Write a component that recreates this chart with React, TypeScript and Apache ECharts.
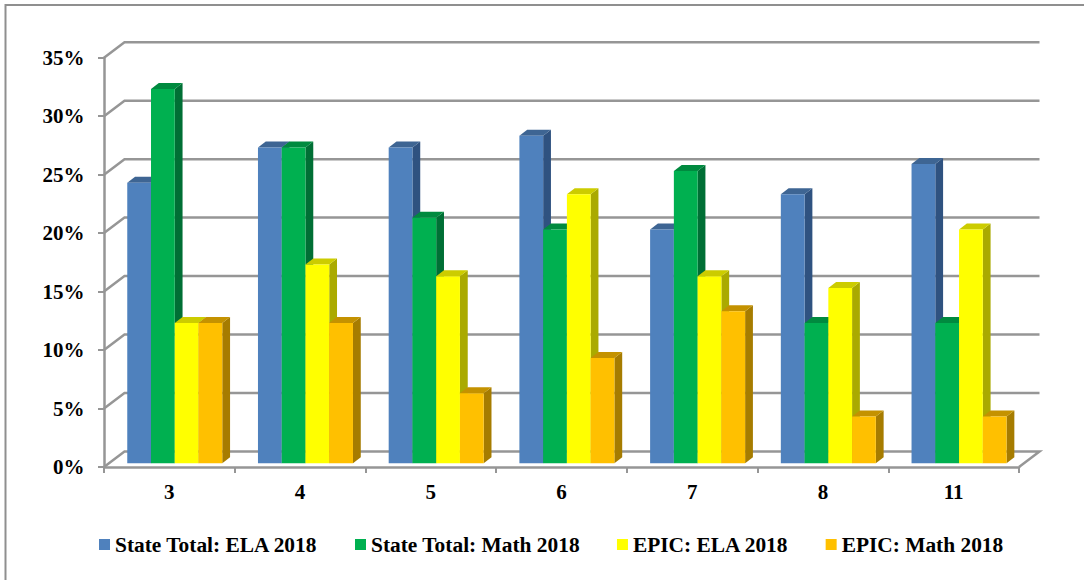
import React, { useEffect, useRef } from "react";
import * as echarts from "echarts";

const categories = ["3", "4", "5", "6", "7", "8", "11"];
const seriesNames = ["State Total: ELA 2018", "State Total: Math 2018", "EPIC: ELA 2018", "EPIC: Math 2018"];
const stateEla = [24, 27, 27, 28, 20, 23, 25.6];
const stateMath = [32, 27, 21, 20, 25, 12, 12];
const epicEla = [12, 17, 16, 23, 16, 15, 20];
const epicMath = [12, 12, 6, 9, 13, 4, 4];
const yTicks = [0, 5, 10, 15, 20, 25, 30, 35];

const front = ["#4F81BD", "#00B050", "#FFFF00", "#FFC000"];
const top = ["#3E6593", "#008A3F", "#CCCC00", "#C49200"];
const side = ["#2F5280", "#006F35", "#AAAA00", "#A67C00"];

const GRID = "#969696";
const WALL_DX = 20.5;
const WALL_DY = -15.5;
const BAR_DX = 5.4;
const BAR_DY = -3.7;
const DEPTH_X = 7.8;
const DEPTH_Y = -6;
const FONT = "'Liberation Serif', 'Times New Roman', serif";

function wallItem(params: any, api: any) {
  const v = api.value(0);
  const a = api.coord([0, v]);
  const band = api.size([1, 0])[0];
  const x0 = a[0] - band / 2;
  const x1 = x0 + band * categories.length;
  const y = a[1];
  const pts = [
    [x0, y],
    [x0 + WALL_DX, y + WALL_DY],
    [x1 + WALL_DX, y + WALL_DY],
  ];
  if (v === 0) pts.push([x1, y]);
  return {
    type: "polyline",
    silent: true,
    shape: { points: pts },
    style: { fill: "none", stroke: GRID, lineWidth: 2.5 },
  };
}

function makeBarItem(idx: number) {
  return (params: any, api: any) => {
    const cat = api.value(0);
    const val = api.value(1);
    const t = api.coord([cat, val]);
    const b = api.coord([cat, 0]);
    const band = api.size([1, 0])[0];
    const w = band * 0.1817;
    const x0 = t[0] - 2 * w + idx * w + BAR_DX;
    const x1 = x0 + w;
    const yT = t[1] + BAR_DY;
    const yB = b[1] + BAR_DY;
    return {
      type: "group",
      children: [
        {
          type: "polygon",
          shape: { points: [[x1, yT], [x1 + DEPTH_X, yT + DEPTH_Y], [x1 + DEPTH_X, yB + DEPTH_Y], [x1, yB]] },
          style: { fill: side[idx] },
        },
        {
          type: "polygon",
          shape: { points: [[x0, yT], [x0 + DEPTH_X, yT + DEPTH_Y], [x1 + DEPTH_X, yT + DEPTH_Y], [x1, yT]] },
          style: { fill: top[idx] },
        },
        {
          type: "rect",
          shape: { x: x0, y: yT, width: w, height: yB - yT },
          style: { fill: front[idx] },
        },
      ],
    };
  };
}

const toData = (arr: number[]) => arr.map((v, i) => [i, v]);

export default function App() {
  const ref = useRef<HTMLDivElement>(null);
  useEffect(() => {
    document.body.style.margin = "0";
    const chart = echarts.init(ref.current!, null, { renderer: "svg" });
    const all = [stateEla, stateMath, epicEla, epicMath];
    chart.setOption({
      animation: false,
      backgroundColor: "#ffffff",
      grid: { left: 104, right: 65, top: 57.7, bottom: 113, containLabel: false },
      graphic: [
        {
          type: "polyline",
          silent: true,
          shape: { points: [[5.5, 590], [5.5, 5], [1090, 5]] },
          style: { fill: "none", stroke: "#8f8f8f", lineWidth: 2 },
        },
      ],
      legend: {
        left: 99,
        top: 534,
        padding: 0,
        itemWidth: 11,
        itemHeight: 11,
        itemGap: 37,
        icon: "rect",
        data: seriesNames,
        selectedMode: false,
        textStyle: { fontFamily: FONT, fontWeight: "bold", fontSize: 21.4, color: "#000" },
      },
      xAxis: {
        type: "category",
        data: categories,
        axisLine: { show: true, lineStyle: { color: GRID, width: 2.5 } },
        axisTick: { show: true, length: 6, alignWithLabel: false, lineStyle: { color: GRID, width: 2 } },
        axisLabel: { margin: 14, fontFamily: FONT, fontWeight: "bold", fontSize: 21, color: "#000" },
        splitLine: { show: false },
      },
      yAxis: {
        type: "value",
        min: 0,
        max: 35,
        interval: 5,
        axisLine: { show: true, lineStyle: { color: GRID, width: 2.5 } },
        axisTick: { show: true, length: 6, lineStyle: { color: GRID, width: 2 } },
        axisLabel: { margin: 19.5, formatter: "{value}%", fontFamily: FONT, fontWeight: "bold", fontSize: 21, color: "#000" },
        splitLine: { show: false },
      },
      series: [
        {
          type: "custom",
          name: "gridlines",
          coordinateSystem: "cartesian2d",
          clip: false,
          silent: true,
          z: 1,
          encode: { y: 0 },
          data: yTicks.map((v) => [v]),
          renderItem: wallItem,
        },
        ...all.map((arr, i) => ({
          type: "custom",
          name: seriesNames[i],
          coordinateSystem: "cartesian2d",
          clip: false,
          z: 3 + i,
          itemStyle: { color: front[i] },
          encode: { x: 0, y: 1 },
          data: toData(arr),
          renderItem: makeBarItem(i),
        })),
      ],
    });
    return () => chart.dispose();
  }, []);
  return <div ref={ref} style={{ width: 1084, height: 580 }} />;
}
